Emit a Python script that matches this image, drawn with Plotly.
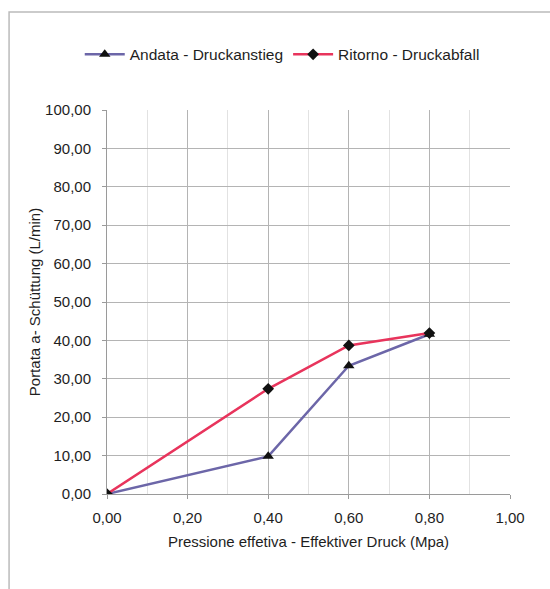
import plotly.graph_objects as go

# Pressure steps (MPa) and measured flow (L/min)
pressure = [0.0, 0.4, 0.6, 0.8]
flow_up = [0.0, 9.8, 33.4, 41.6]     # Andata - Druckanstieg
flow_down = [0.0, 27.4, 38.7, 41.9]  # Ritorno - Druckabfall

y_ticks = [0, 10, 20, 30, 40, 50, 60, 70, 80, 90, 100]
x_ticks = [0.0, 0.2, 0.4, 0.6, 0.8, 1.0]

font = dict(family="Liberation Sans, Arial, sans-serif", size=15, color="#1e1e1e")

fig = go.Figure()
fig.add_trace(go.Scatter(
    x=pressure, y=flow_up, mode="lines+markers",
    name="Andata - Druckanstieg",
    line=dict(color="#6c66a8", width=2.5),
    marker=dict(symbol="triangle-up", size=10, color="#111111"),
))
fig.add_trace(go.Scatter(
    x=pressure, y=flow_down, mode="lines+markers",
    name="Ritorno - Druckabfall",
    line=dict(color="#e8345c", width=2.5),
    marker=dict(symbol="diamond", size=9, color="#111111"),
))

fig.update_layout(
    width=550, height=589,
    margin=dict(l=107, r=40, t=110, b=95),
    paper_bgcolor="white", plot_bgcolor="white",
    font=font, separators=",.",
    showlegend=True,
    legend=dict(orientation="h", x=0.145, xanchor="left", y=0.907, yanchor="middle",
                xref="container", yref="container",
                font=dict(size=15.5), itemwidth=40, tracegroupgap=0),
    xaxis=dict(
        range=[0, 1.0], tickvals=x_ticks, tickformat=".2f",
        showgrid=True, gridcolor="#b4b4b4", gridwidth=1,
        minor=dict(dtick=0.1, showgrid=True, gridcolor="#e2e2e2", gridwidth=1),
        showline=True, linecolor="#9a9a9a", ticks="outside", ticklen=4,
        tickcolor="#9a9a9a", zeroline=False, ticklabelstandoff=6,
        title=dict(text="Pressione effetiva - Effektiver Druck (Mpa)", standoff=11,
                   font=dict(size=15)),
    ),
    yaxis=dict(
        range=[0, 100], tickvals=y_ticks, tickformat=".2f",
        showgrid=True, gridcolor="#b4b4b4", gridwidth=1,
        showline=True, linecolor="#9a9a9a", ticks="outside", ticklen=4,
        tickcolor="#9a9a9a", zeroline=False, ticklabelstandoff=8,
        title=dict(text="Portata a- Schüttung (L/min)", standoff=0,
                   font=dict(size=15)),
    ),
)

# Outer chart frame
fig.add_shape(type="rect", xref="paper", yref="paper",
              x0=-0.243, x1=1.2, y0=-0.3, y1=1.255,
              line=dict(color="#bbbbbb", width=1.5), layer="below")

fig.write_html("out.html")
